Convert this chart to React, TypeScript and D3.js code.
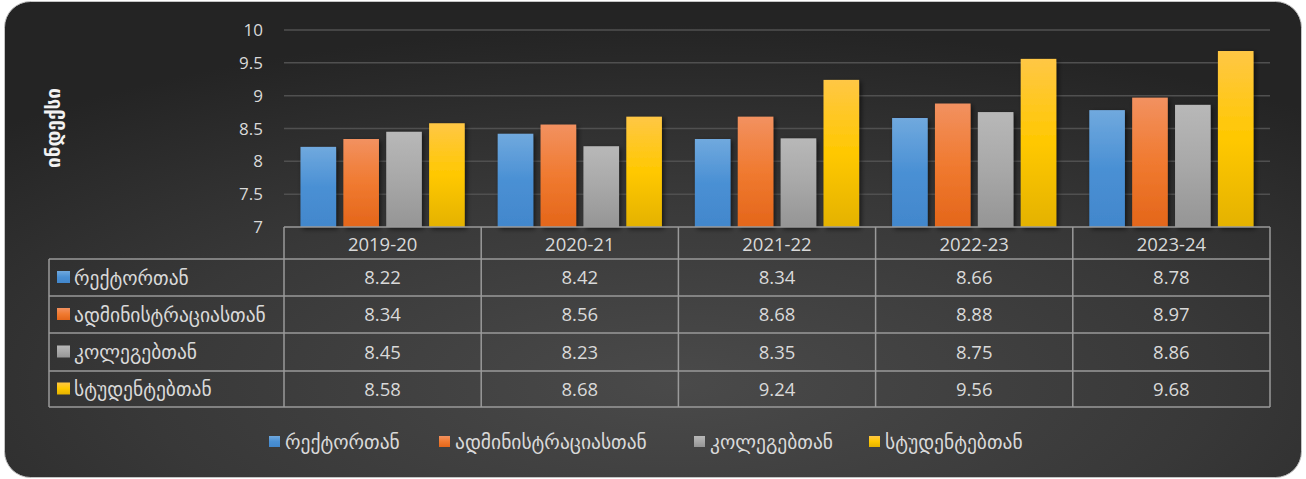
import React from 'react';
import * as d3 from 'd3';

const categories = ['2019-20', '2020-21', '2021-22', '2022-23', '2023-24'];
const seriesNames = ['რექტორთან', 'ადმინისტრაციასთან', 'კოლეგებთან', 'სტუდენტებთან'];
const rectorValues = [8.22, 8.42, 8.34, 8.66, 8.78];
const adminValues = [8.34, 8.56, 8.68, 8.88, 8.97];
const colleagueValues = [8.45, 8.23, 8.35, 8.75, 8.86];
const studentValues = [8.58, 8.68, 9.24, 9.56, 9.68];
const yTicks = [7, 7.5, 8, 8.5, 9, 9.5, 10];
const yTitle = 'ინდექსი';

const seriesValues = [rectorValues, adminValues, colleagueValues, studentValues];
const gradients = [
  ['#70a9de', '#4a90d4', '#4287cc'],
  ['#f29160', '#f07a30', '#e4661a'],
  ['#b8b8b8', '#a8a8a8', '#959595'],
  ['#ffc745', '#ffc800', '#e4b200'],
];

const W = 1306;
const H = 479;
const plotLeft = 284;
const plotRight = 1270;
const plotTop = 30;
const plotBottom = 227;
const tableLeft = 49;
const rowEdges = [227, 259, 296, 333, 371, 407];
const FONT = "'Open Sans', 'DejaVu Sans', sans-serif";
const GEO = "'DejaVu Sans', 'Open Sans', sans-serif";
const TEXT = '#d9d9d9';
const LINE = '#9a9a9a';

export default function App() {
  const x = d3.scaleBand<string>().domain(categories).range([plotLeft, plotRight]);
  const step = x.bandwidth();
  const inner = d3
    .scaleBand<string>()
    .domain(seriesNames)
    .range([16.5, step - 16.5])
    .paddingInner(0.17);
  const y = d3.scaleLinear().domain([7, 10]).range([plotBottom, plotTop]);

  const legendX = [269, 439, 694, 869];

  return (
    <svg
      width={W}
      height={H}
      style={{ position: 'absolute', left: 0, top: 0, display: 'block' }}
    >
      <defs>
        <radialGradient id="bg" cx="52%" cy="80%" r="75%" gradientUnits="objectBoundingBox">
          <stop offset="0%" stopColor="#4a4a4a" />
          <stop offset="55%" stopColor="#383838" />
          <stop offset="100%" stopColor="#242424" />
        </radialGradient>
        {gradients.map((g, i) => (
          <linearGradient key={i} id={`g${i}`} x1="0" y1="0" x2="0" y2="1">
            <stop offset="0%" stopColor={g[0]} />
            <stop offset="50%" stopColor={g[1]} />
            <stop offset="100%" stopColor={g[2]} />
          </linearGradient>
        ))}
        <filter id="shadow" x="-30%" y="-10%" width="160%" height="130%">
          <feDropShadow dx="2" dy="2" stdDeviation="2.5" floodColor="#000" floodOpacity="0.6" />
        </filter>
      </defs>
      <rect x={4.5} y={1.5} width={1297} height={476} rx={26} ry={26} fill="url(#bg)" stroke="#c4c4c4" strokeWidth={1} />

      {/* gridlines */}
      {yTicks.slice(1).map((t) => (
        <line key={t} x1={plotLeft} x2={plotRight} y1={y(t)} y2={y(t)} stroke="#505050" strokeWidth={1.5} />
      ))}
      {/* y tick labels */}
      {yTicks.map((t) => (
        <text key={t} x={263} y={y(t)} dy="0.36em" textAnchor="end" fill={TEXT} fontFamily={FONT} fontSize={17}>
          {t}
        </text>
      ))}
      <text
        transform={`translate(53,${128}) rotate(-90)`}
        textAnchor="middle"
        dy="0.35em"
        fill="#f2f2f2"
        fontFamily={GEO}
        fontWeight="bold"
        fontSize={19}
      >
        {yTitle}
      </text>

      {/* bars */}
      {categories.map((c, ci) => (
        <g key={c} transform={`translate(${x(c)},0)`}>
          {seriesNames.map((s, si) => {
            const v = seriesValues[si][ci];
            return (
              <rect
                key={s}
                x={inner(s)}
                y={y(v)}
                width={inner.bandwidth()}
                height={y(7) - y(v)}
                fill={`url(#g${si})`}
                filter="url(#shadow)"
              />
            );
          })}
        </g>
      ))}

      {/* table lines */}
      <g stroke={LINE} strokeWidth={1.5} fill="none">
        <line x1={plotLeft} x2={plotRight} y1={rowEdges[0]} y2={rowEdges[0]} />
        {rowEdges.slice(1).map((r) => (
          <line key={r} x1={tableLeft} x2={plotRight} y1={r} y2={r} />
        ))}
        <line x1={tableLeft} x2={tableLeft} y1={rowEdges[1]} y2={rowEdges[5]} />
        {categories.map((c) => (
          <line key={c} x1={x(c)} x2={x(c)} y1={rowEdges[0]} y2={rowEdges[5]} />
        ))}
        <line x1={plotRight} x2={plotRight} y1={rowEdges[0]} y2={rowEdges[5]} />
      </g>

      {/* header */}
      {categories.map((c) => (
        <text key={c} x={(x(c) as number) + step / 2} y={(rowEdges[0] + rowEdges[1]) / 2 + 1} dy="0.36em" textAnchor="middle" fill={TEXT} fontFamily={FONT} fontSize={18.5}>
          {c}
        </text>
      ))}

      {/* rows */}
      {seriesNames.map((s, si) => {
        const cy = (rowEdges[si + 1] + rowEdges[si + 2]) / 2;
        return (
          <g key={s}>
            <rect x={57} y={cy - 6.5} width={13} height={12} fill={`url(#g${si})`} />
            <text x={74} y={cy} dy="0.36em" fill={TEXT} fontFamily={GEO} fontSize={19.5}>
              {s}
            </text>
            {categories.map((c, ci) => (
              <text key={c} x={(x(c) as number) + step / 2} y={cy} dy="0.36em" textAnchor="middle" fill={TEXT} fontFamily={FONT} fontSize={18.5}>
                {seriesValues[si][ci].toFixed(2)}
              </text>
            ))}
          </g>
        );
      })}

      {/* legend */}
      {seriesNames.map((s, si) => (
        <g key={s}>
          <rect x={legendX[si]} y={436} width={11} height={11} fill={`url(#g${si})`} />
          <text x={legendX[si] + 16} y={442} dy="0.36em" fill={TEXT} fontFamily={GEO} fontSize={19.5}>
            {s}
          </text>
        </g>
      ))}
    </svg>
  );
}
